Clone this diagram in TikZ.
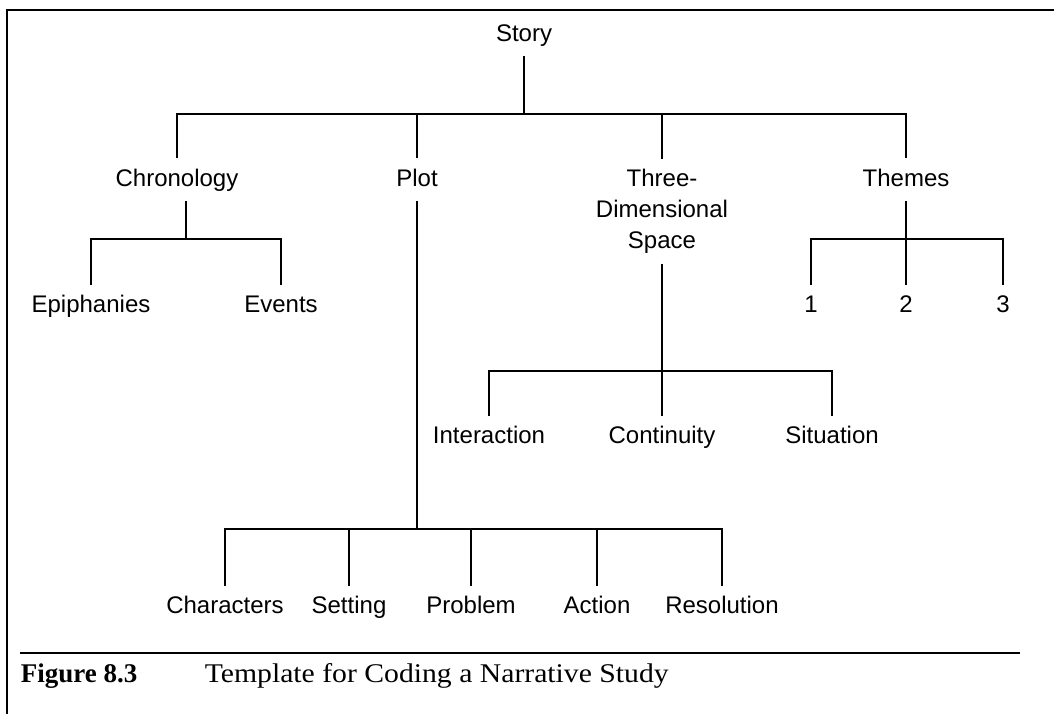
\documentclass[tikz,border=0pt]{standalone}
\usepackage{fontspec}
\setmainfont{Liberation Serif}
\setsansfont{Liberation Sans}
\usepackage{graphicx}
\begin{document}
\begin{tikzpicture}[x=1pt,y=-1pt,
  line width=1.6pt,
  lbl/.style={font=\sffamily\fontsize{24}{31}\selectfont, inner sep=0pt,
    text height=17.5pt, text depth=5pt, outer ysep=10pt},
  lbl3/.style={font=\sffamily\fontsize{24}{31}\selectfont, inner sep=0pt,
    align=center, outer ysep=10pt},
  frame/.style={line width=2pt},
  rule/.style={line width=1.6pt},
  capfig/.style={font=\bfseries\fontsize{27}{30}\selectfont, inner sep=0pt, anchor=base west},
  captxt/.style={font=\fontsize{27}{30}\selectfont, inner sep=0pt, anchor=base west}]
\useasboundingbox (0,0) rectangle (1054,714);
\fill[white] (0,0) rectangle (1054,714);
% frame (top and left edges)
\draw[frame] (7,714) -- (7,10) -- (1054,10);

% nodes
\node[lbl] (story) at (524,35.25) {Story};
\node[lbl] (chrono) at (177,179.75) {Chronology};
\node[lbl] (plot) at (417,179.75) {Plot};
\node[lbl3] (tds) at (662,211.4) {Three-\\Dimensional\\Space};
\node[lbl] (themes) at (906,179.75) {Themes};

\node[lbl] (epi) at (91,305.75) {Epiphanies};
\node[lbl] (events) at (281,305.75) {Events};
\node[lbl] (one) at (811,305.75) {1};
\node[lbl] (two) at (906,305.75) {2};
\node[lbl] (three) at (1003,305.75) {3};

\node[lbl] (inter) at (489,436.75) {Interaction};
\node[lbl] (cont) at (662,436.75) {Continuity};
\node[lbl] (sit) at (832,436.75) {Situation};

\node[lbl] (chars) at (225,606.75) {Characters};
\node[lbl] (setting) at (349,606.75) {Setting};
\node[lbl] (problem) at (471,606.75) {Problem};
\node[lbl] (action) at (597,606.75) {Action};
\node[lbl] (res) at (722,606.75) {Resolution};

% junction coordinates
\coordinate (top) at (524,114);
\coordinate (cj) at (186,239);
\coordinate (tj) at (906,239);
\coordinate (sj) at (662,371);
\coordinate (pj) at (417,529);

% connectors
\draw (story) -- (top);
\draw (chrono.north) -- (chrono.north |- top) -- (themes.north |- top) -- (themes.north);
\draw (plot.north) -- (plot.north |- top);
\draw (tds.north) -- (tds.north |- top);

\draw (chrono.south -| cj) -- (cj);
\draw (epi.north) -- (epi.north |- cj) -- (events.north |- cj) -- (events.north);

\draw (themes.south) -- (two.north);
\draw (one.north) -- (one.north |- tj) -- (three.north |- tj) -- (three.north);

\draw (tds.south) -- (cont.north);
\draw (inter.north) -- (inter.north |- sj) -- (sit.north |- sj) -- (sit.north);

\draw (plot.south) -- (pj);
\draw (chars.north) -- (chars.north |- pj) -- (res.north |- pj) -- (res.north);
\draw (setting.north) -- (setting.north |- pj);
\draw (problem.north) -- (problem.north |- pj);
\draw (action.north) -- (action.north |- pj);

% caption
\draw[rule] (20,653) -- (1020,653);
\node[capfig] (fig) at (20,682) {Figure 8.3};
\node[captxt] (cap) at (204,682) {\scalebox{1.1}[1]{Template for Coding a Narrative Study}};
\end{tikzpicture}
\end{document}
